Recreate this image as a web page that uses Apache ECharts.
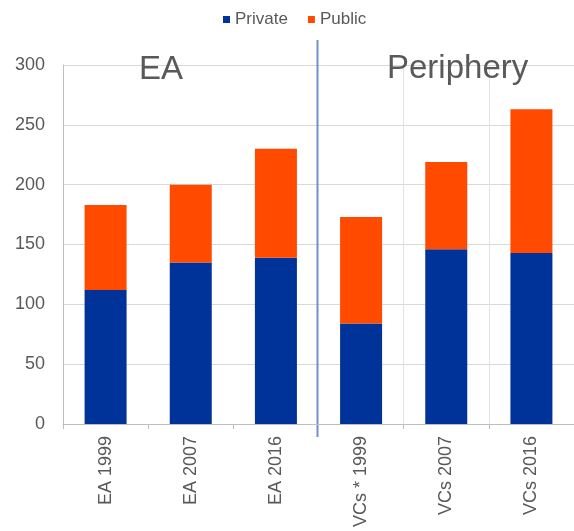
<!DOCTYPE html>
<html>
<head>
<meta charset="utf-8">
<script src="https://cdn.jsdelivr.net/npm/echarts@6/dist/echarts.min.js"></script>
<style>
	html, body { margin: 0; padding: 0; background: #fff; }
	#bar { width: 574px; height: 531px; }
</style>
</head>
<body>
<div id="bar"></div>
<script>
let categories = ['EA 1999', 'EA 2007', 'EA 2016', 'VCs * 1999', 'VCs 2007', 'VCs 2016']
let privateVals = [112, 135, 139, 84, 146, 143]
let publicVals = [71, 65, 91, 89, 73, 120]
let yTicks = [0, 50, 100, 150, 200, 250, 300]

let myChart = echarts.init(document.getElementById('bar'))
let font = '"Liberation Sans", Arial, sans-serif'

let option = {
	animation: false,
	color: ['#003399', '#FF4A00'],
	textStyle: { fontFamily: font },
	title: [
		{ text: 'EA', left: 134, top: 48, textStyle: { fontSize: 33, fontWeight: 'normal', color: '#595959', fontFamily: font } },
		{ text: 'Periphery', left: 382, top: 47, textStyle: { fontSize: 33, fontWeight: 'normal', color: '#595959', fontFamily: font } }
	],
	legend: {
		data: ['Private', 'Public'],
		left: 218,
		top: 6,
		icon: 'rect',
		itemWidth: 7,
		itemHeight: 7,
		itemGap: 20,
		textStyle: { fontSize: 17, color: '#595959' }
	},
	grid: { left: 63, right: -3, top: 65, bottom: 107 },
	xAxis: [{
		type: 'category',
		data: categories,
		axisLine: { lineStyle: { color: '#bfbfbf' } },
		axisTick: { show: true, length: 5, interval: 0, lineStyle: { color: '#bfbfbf' } },
		axisLabel: { rotate: 90, margin: 12, fontSize: 18, color: '#595959', interval: 0 },
		splitLine: {
			show: true,
			interval: function (index) { return index === 4 || index === 5 },
			lineStyle: { color: '#e3e3e3' }
		}
	}],
	yAxis: [{
		type: 'value',
		min: yTicks[0],
		max: yTicks[yTicks.length - 1],
		interval: 50,
		axisLine: { show: true, lineStyle: { color: '#bfbfbf' } },
		axisTick: { show: false },
		axisLabel: { fontSize: 18, color: '#595959', margin: 18 },
		splitLine: { lineStyle: { color: '#d9d9d9' } }
	}],
	series: [
		{ name: 'Private', type: 'bar', stack: 'total', barWidth: 42, data: privateVals },
		{ name: 'Public', type: 'bar', stack: 'total', barWidth: 42, data: publicVals }
	]
}
myChart.setOption(option)

// divider between the EA and Periphery groups
let a = myChart.convertToPixel({ xAxisIndex: 0 }, categories[2])
let b = myChart.convertToPixel({ xAxisIndex: 0 }, categories[3])
let divX = (a + b) / 2 - 1
myChart.setOption({
	graphic: [{
		type: 'line',
		shape: { x1: divX, y1: 40, x2: divX, y2: 437 },
		style: { stroke: '#6f8fd0', lineWidth: 2 }
	}]
})
</script>
</body>
</html>
